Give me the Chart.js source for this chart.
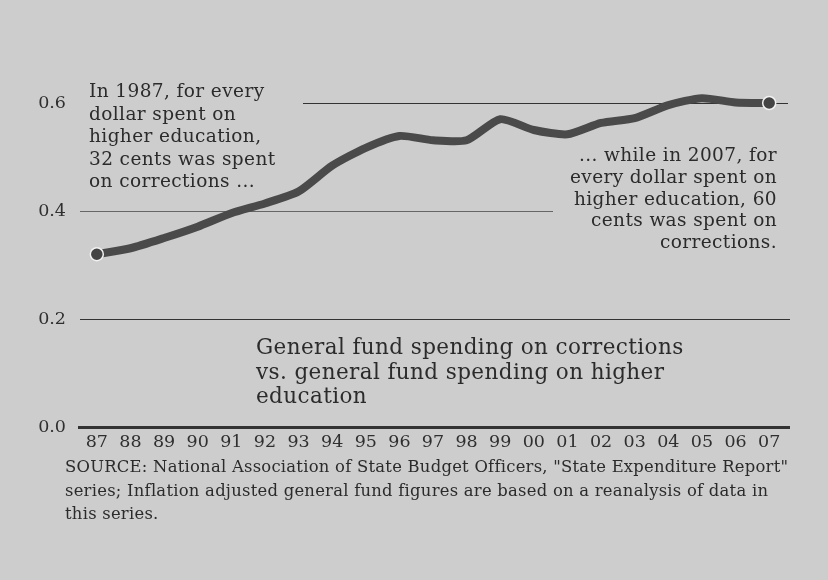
<!DOCTYPE html>
<html>
<head>
<meta charset="utf-8">
<script src="https://cdn.jsdelivr.net/npm/chart.js@4/dist/chart.umd.min.js"></script>
<style>
  html, body { margin: 0; padding: 0; }
  body { width: 828px; height: 580px; background: #cdcdcd; position: relative; overflow: hidden;
         font-family: "DejaVu Serif", serif; color: #2b2b2b; }
  #wrap { position: absolute; left: 0; top: 0; width: 828px; height: 580px; }
  .note { position: absolute; white-space: nowrap; }
  #left-note { left: 89px; top: 80px; font-size: 18.5px; line-height: 22.6px; letter-spacing: 0.4px; }
  #right-note { right: 51px; top: 144px; font-size: 18.5px; line-height: 21.8px; letter-spacing: 0.4px; text-align: right; }
  #title { left: 256px; top: 335px; font-size: 21.5px; line-height: 24.5px; letter-spacing: 0.4px; }
  #source { left: 65px; top: 455px; font-size: 16.4px; line-height: 23.5px; letter-spacing: 0.25px; }
</style>
</head>
<body>
<div id="wrap"><canvas id="chart" width="828" height="580"></canvas></div>
<div class="note" id="left-note">In 1987, for every<br>dollar spent on<br>higher education,<br>32 cents was spent<br>on corrections ...</div>
<div class="note" id="right-note">... while in 2007, for<br>every dollar spent on<br>higher education, 60<br>cents was spent on<br>corrections.</div>
<div class="note" id="title">General fund spending on corrections<br>vs. general fund spending on higher<br>education</div>
<div class="note" id="source">SOURCE: National Association of State Budget Officers, "State Expenditure Report"<br>series; Inflation adjusted general fund figures are based on a reanalysis of data in<br>this series.</div>

<script>
// years shown as two-digit labels
const years = ["87", "88", "89", "90", "91", "92", "93", "94", "95", "96", "97",
               "98", "99", "00", "01", "02", "03", "04", "05", "06", "07"];
// corrections spending per dollar of higher-education spending
const ratio = [0.32, 0.331, 0.35, 0.371, 0.396, 0.414, 0.436, 0.484, 0.517, 0.539, 0.531,
               0.531, 0.570, 0.550, 0.542, 0.563, 0.572, 0.596, 0.609, 0.601, 0.60];
const yTicks = [0, 0.2, 0.4, 0.6];
const yTickLabels = ["0.0", "0.2", "0.4", "0.6"];

const ink = "#2f2f2f";

// partial gridlines like the print graphic (start/end are offsets in the plot area)
const gridPlugin = {
    id: "printGrid",
    beforeDatasetsDraw(chart) {
        const ctx = chart.ctx;
        const y = chart.scales.y;
        const a = chart.chartArea;
        const segs = [
            { v: 0.6, x0: a.left + 223, x1: a.right + 2, w: 1, c: "#333" },
            { v: 0.4, x0: a.left, x1: a.left + 473, w: 1, c: "#666" },
            { v: 0.2, x0: a.left, x1: a.right + 4, w: 1, c: "#333" },
            { v: 0.0, x0: a.left - 2, x1: a.right + 4, w: 3, c: "#333" }
        ];
        ctx.save();
        segs.forEach(s => {
            const py = Math.round(y.getPixelForValue(s.v)) + (s.w % 2 ? 0.5 : 0);
            ctx.beginPath();
            ctx.strokeStyle = s.c;
            ctx.lineWidth = s.w;
            ctx.moveTo(s.x0, py);
            ctx.lineTo(s.x1, py);
            ctx.stroke();
        });
        ctx.restore();
    }
};

const last = ratio.length - 1;

new Chart(document.getElementById("chart").getContext("2d"), {
    type: "line",
    data: {
        labels: years,
        datasets: [{
            data: ratio,
            borderColor: "#4a4a4a",
            borderWidth: 8,
            tension: 0.22,
            fill: false,
            pointRadius: c => (c.dataIndex === 0 || c.dataIndex === last) ? 6.5 : 0,
            pointBackgroundColor: "#444",
            pointBorderColor: "#f2f2f2",
            pointBorderWidth: 1.5,
            clip: false
        }]
    },
    options: {
        responsive: false,
        animation: false,
        events: [],
        layout: { padding: { left: 0, right: 42, top: 103, bottom: 123 } },
        plugins: { legend: { display: false }, tooltip: { enabled: false } },
        scales: {
            x: {
                offset: true,
                grid: { display: false, drawTicks: false },
                border: { display: false },
                ticks: { color: ink, padding: 5, maxRotation: 0, autoSkip: false,
                         font: { family: "DejaVu Serif", size: 17.5 } },
                afterFit: s => { s.height = 30; }
            },
            y: {
                min: 0,
                max: 0.6,
                grid: { display: false, drawTicks: false },
                border: { display: false },
                afterBuildTicks: s => { s.ticks = yTicks.map(v => ({ value: v })); },
                ticks: { color: ink, padding: 14,
                         font: { family: "DejaVu Serif", size: 17.5 },
                         callback: v => yTickLabels[yTicks.indexOf(v)] },
                afterFit: s => { s.width = 80; }
            }
        }
    },
    plugins: [gridPlugin]
});
</script>
</body>
</html>
